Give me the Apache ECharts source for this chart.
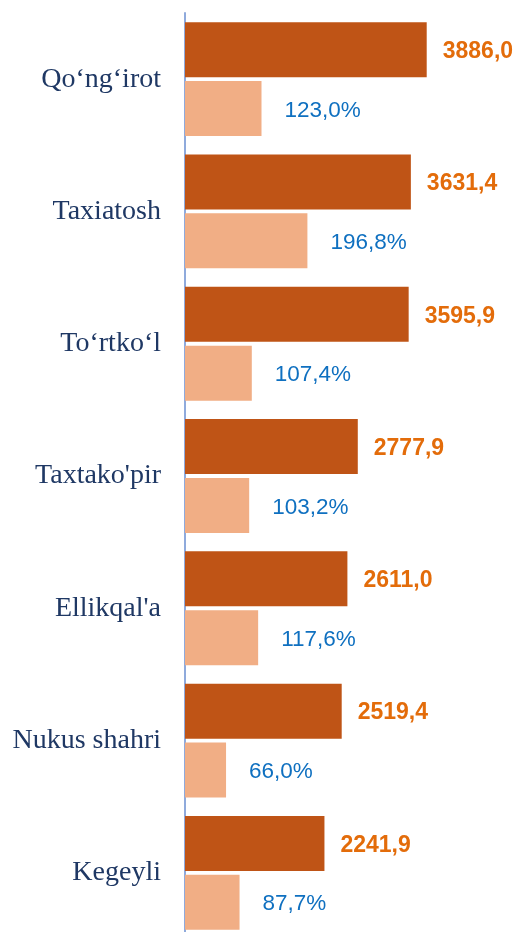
<!DOCTYPE html>
<html>
<head>
<meta charset="utf-8">
<script src="https://cdn.jsdelivr.net/npm/echarts@6/dist/echarts.min.js"></script>
<style>html,body{margin:0;padding:0;background:#fff;overflow:hidden}#c{width:519px;height:940px}</style>
</head>
<body>
<div id="c"></div>
<script>
const categories = ['Qo‘ng‘irot', 'Taxiatosh', 'To‘rtko‘l', "Taxtako'pir", "Ellikqal'a", 'Nukus shahri', 'Kegeyli'];
const values = [3886.0, 3631.4, 3595.9, 2777.9, 2611.0, 2519.4, 2241.9];
const percents = [123.0, 196.8, 107.4, 103.2, 117.6, 66.0, 87.7];

const fmt = v => v.toFixed(1).replace('.', ',');
const chart = echarts.init(document.getElementById('c'), null, {renderer: 'canvas'});
chart.setOption({
  animation: false,
  grid: {left: 185, top: 13, width: 311, height: 926},
  xAxis: [
    {type: 'value', min: 0, max: 5000, show: false, splitLine: {show: false}},
    {type: 'value', min: 0, max: 500, show: false, splitLine: {show: false}}
  ],
  yAxis: {
    type: 'category', data: categories, inverse: true,
    axisLine: {show: true, lineStyle: {color: '#8faadc', width: 2}},
    axisTick: {show: false},
    axisLabel: {margin: 24, fontFamily: 'Liberation Serif', fontSize: 28, color: '#1f3864'}
  },
  series: [
    {
      type: 'bar', xAxisIndex: 0, data: values, barWidth: 55, barGap: '7%',
      itemStyle: {color: '#bf5416'},
      label: {show: true, position: 'right', distance: 16, formatter: p => fmt(p.value),
        fontFamily: 'Liberation Sans', fontWeight: 'bold', fontSize: 23, color: '#e36c0a', offset: [0, 2]}
    },
    {
      type: 'bar', xAxisIndex: 1, data: percents, barWidth: 55, barGap: '7%',
      itemStyle: {color: '#f1ae85'},
      label: {show: true, position: 'right', distance: 23, formatter: p => fmt(p.value) + '%',
        fontFamily: 'Liberation Sans', fontSize: 22.5, color: '#0f70c0', offset: [0, 2]}
    }
  ]
});
</script>
</body>
</html>
